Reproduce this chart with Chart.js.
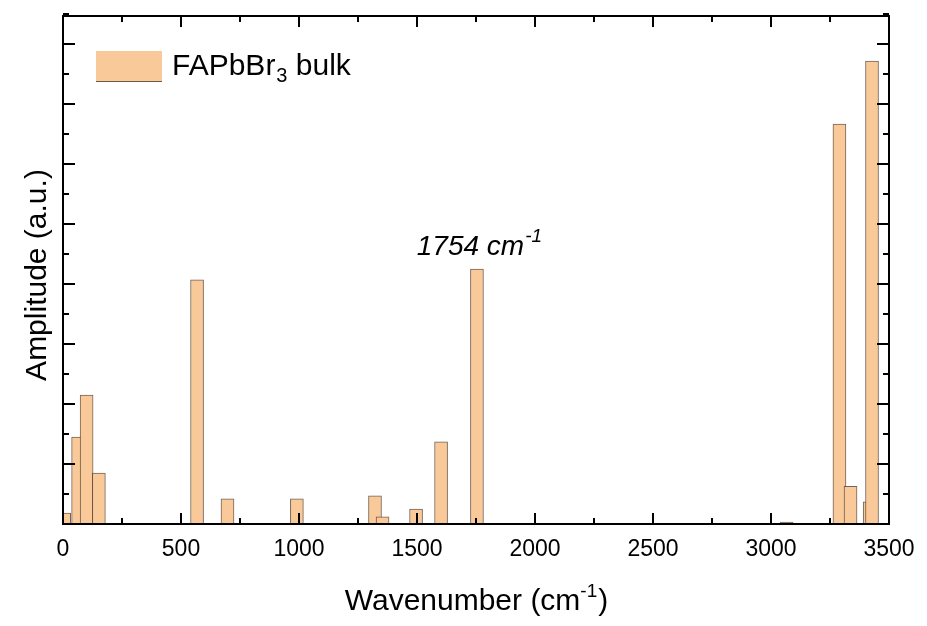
<!DOCTYPE html>
<html>
<head>
<meta charset="utf-8">
<script src="https://cdn.jsdelivr.net/npm/chart.js@4"></script>
<style>
    html, body { margin: 0; padding: 0; background: #fff; }
    canvas { display: block; }
</style>
</head>
<body>
<canvas id="chart-ir" width="927" height="626"></canvas>
<script>
// values
const wavenumbers = [5, 64, 100, 152, 568, 697, 991, 1322, 1354, 1496, 1602, 1754, 3066, 3290, 3337, 3418, 3428];
const amplitudes = [0.18, 1.45, 2.15, 0.85, 4.07, 0.42, 0.42, 0.47, 0.12, 0.25, 1.37, 4.25, 0.03, 6.67, 0.63, 0.37, 7.72];
const xTickValues = [0, 500, 1000, 1500, 2000, 2500, 3000, 3500];
const yTickValues = [0, 1, 2, 3, 4, 5, 6, 7, 8];
const seriesName = "FAPbBr";
const peakLabel = 1754;

const FONT = '"Liberation Sans", Arial, sans-serif';
const FILL = "rgb(250, 201, 153)";

(function () {
    /* ============ marco y ticks hacia adentro ============ */
    const framePlugin = {
        id: "frame",
        afterDraw(chart) {
            const { ctx, chartArea: a, scales } = chart;
            const xs = scales.x, ys = scales.y;
            ctx.save();
            ctx.strokeStyle = "#000";
            ctx.lineWidth = 2;
            ctx.beginPath();

            const xMinor = [];
            for (let i = 0; i < xTickValues.length - 1; i++) {
                xMinor.push((xTickValues[i] + xTickValues[i + 1]) / 2);
            }
            xTickValues.forEach(v => {
                const px = Math.round(xs.getPixelForValue(v));
                ctx.moveTo(px, a.bottom); ctx.lineTo(px, a.bottom - 11);
                ctx.moveTo(px, a.top); ctx.lineTo(px, a.top + 11);
            });
            xMinor.forEach(v => {
                const px = Math.round(xs.getPixelForValue(v));
                ctx.moveTo(px, a.bottom); ctx.lineTo(px, a.bottom - 6);
                ctx.moveTo(px, a.top); ctx.lineTo(px, a.top + 6);
            });

            const yMinor = yTickValues.map(v => v + 0.5);
            yTickValues.forEach(v => {
                const py = Math.round(ys.getPixelForValue(v));
                ctx.moveTo(a.left, py); ctx.lineTo(a.left + 12, py);
                ctx.moveTo(a.right, py); ctx.lineTo(a.right - 12, py);
            });
            yMinor.forEach(v => {
                const py = Math.round(ys.getPixelForValue(v));
                ctx.moveTo(a.left, py); ctx.lineTo(a.left + 6, py);
                ctx.moveTo(a.right, py); ctx.lineTo(a.right - 6, py);
            });
            ctx.stroke();

            ctx.strokeRect(a.left, a.top, a.right - a.left, a.bottom - a.top);
            ctx.restore();
        },
    };

    /* ============ textos: leyenda, anotación, títulos ============ */
    const textPlugin = {
        id: "texts",
        afterDraw(chart) {
            const { ctx, chartArea: a, scales } = chart;
            ctx.save();
            ctx.textBaseline = "alphabetic";

            // leyenda
            ctx.fillStyle = FILL;
            ctx.fillRect(96, 51, 66, 31);
            ctx.strokeStyle = "#6b5a4a";
            ctx.lineWidth = 1;
            ctx.beginPath();
            ctx.moveTo(96, 81.5); ctx.lineTo(162, 81.5);
            ctx.stroke();
            ctx.fillStyle = "#000";
            ctx.textAlign = "left";
            ctx.font = "30px " + FONT;
            let tx = 172;
            ctx.fillText(seriesName, tx, 75);
            tx += ctx.measureText(seriesName).width;
            ctx.font = "20px " + FONT;
            ctx.fillText("3", tx + 1, 82);
            tx += ctx.measureText("3").width + 1;
            ctx.font = "30px " + FONT;
            ctx.fillText(" bulk", tx, 75);

            // anotación del pico
            const px = scales.x.getPixelForValue(peakLabel);
            ctx.font = "italic 28px " + FONT;
            const main = peakLabel + " cm";
            const wMain = ctx.measureText(main).width;
            ctx.font = "italic 19px " + FONT;
            const wSup = ctx.measureText("-1").width;
            const ax = px - (wMain + wSup) / 2 + 2;
            ctx.font = "italic 28px " + FONT;
            ctx.fillText(main, ax, 255);
            ctx.font = "italic 19px " + FONT;
            ctx.fillText("-1", ax + wMain + 1, 242);

            // título eje x
            ctx.font = "30px " + FONT;
            const xt = "Wavenumber (cm";
            const wX = ctx.measureText(xt).width;
            const wClose = ctx.measureText(")").width;
            ctx.font = "19px " + FONT;
            const wXs = ctx.measureText("-1").width;
            const cx = (a.left + a.right) / 2;
            const sx = cx - (wX + wXs + wClose) / 2;
            ctx.font = "30px " + FONT;
            ctx.fillText(xt, sx, 610);
            ctx.font = "19px " + FONT;
            ctx.fillText("-1", sx + wX, 597);
            ctx.font = "30px " + FONT;
            ctx.fillText(")", sx + wX + wXs + 1, 610);

            // título eje y
            ctx.translate(46, (a.top + a.bottom) / 2 + 5);
            ctx.rotate(-Math.PI / 2);
            ctx.textAlign = "center";
            ctx.fillText("Amplitude (a.u.)", 0, 0);
            ctx.restore();
        },
    };

    const canvas = document.getElementById("chart-ir");
    new Chart(canvas.getContext("2d"), {
        type: "bar",
        data: {
            datasets: [
                {
                    label: seriesName + "3 bulk",
                    data: wavenumbers.map((w, i) => ({ x: w, y: amplitudes[i] })),
                    backgroundColor: FILL,
                    borderColor: "rgba(90, 72, 56, 0.85)",
                    borderWidth: 1,
                    borderSkipped: "bottom",
                    barThickness: 13,
                },
            ],
        },
        options: {
            responsive: false,
            animation: false,
            devicePixelRatio: 1,
            layout: { padding: { top: 16, right: 38, left: 0, bottom: 0 } },
            plugins: {
                legend: { display: false },
                tooltip: { enabled: false },
            },
            scales: {
                x: {
                    type: "linear",
                    offset: false,
                    min: 0,
                    max: 3500,
                    afterBuildTicks: s => { s.ticks = xTickValues.map(v => ({ value: v })); },
                    grid: { display: false, drawTicks: false },
                    border: { display: false },
                    ticks: {
                        color: "#000",
                        font: { family: FONT, size: 23 },
                        padding: 12,
                        maxRotation: 0,
                        callback: v => String(v),
                    },
                    afterFit: s => { s.height = 102; },
                },
                y: {
                    min: 0,
                    max: 8.47,
                    grid: { display: false, drawTicks: false },
                    border: { display: false },
                    ticks: { display: false },
                    afterFit: s => { s.width = 63; },
                },
            },
        },
        plugins: [framePlugin, textPlugin],
    });
})();
</script>
</body>
</html>
